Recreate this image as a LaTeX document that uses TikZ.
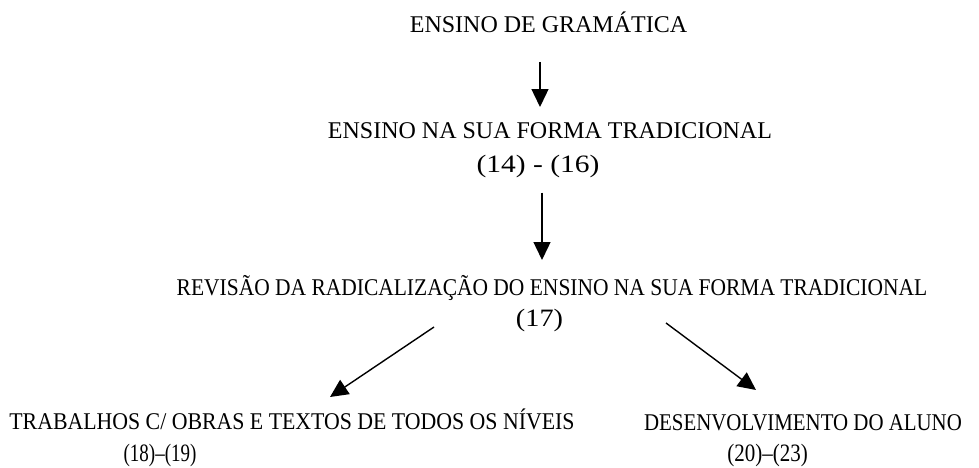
\documentclass[tikz,border=0pt]{standalone}
\usepackage{fontspec}
\setmainfont{Liberation Serif}
\usepackage{graphicx}
\usetikzlibrary{arrows.meta}

% horizontal squeeze / stretch of a text
\newcommand{\hscale}[2]{\scalebox{#1}[1]{#2}}

\begin{document}
\begin{tikzpicture}[
  x=1pt, y=1pt,
  heading/.style={
    inner sep=0pt,
    anchor=base,
    font=\fontsize{24}{28}\selectfont,
  },
  reference/.style={
    inner sep=0pt,
    anchor=base,
    font=\fontsize{25}{29}\selectfont,
  },
  flow/.style={draw, line width=1.4pt, -{Triangle[length=18pt, width=17pt]}},
]
\useasboundingbox (0,0) rectangle (979,467);

\node[heading] (gram) at (548.5,434) {ENSINO DE GRAMÁTICA};
\node[heading] (trad) at (550,329) {ENSINO NA SUA FORMA TRADICIONAL};
\node[reference] (ref1416) at (538,294.5) {\hscale{1.18}{(14) - (16)}};
\node[heading] (rev) at (552,172) {\hscale{0.895}{REVISÃO DA RADICALIZAÇÃO DO ENSINO NA SUA FORMA TRADICIONAL}};
\node[reference] (ref17) at (539.5,141) {\hscale{1.13}{(17)}};
\node[heading] (obras) at (292,38) {\hscale{0.909}{TRABALHOS C/ OBRAS E TEXTOS DE TODOS OS NÍVEIS}};
\node[reference] (ref1819) at (160,6) {\hscale{0.76}{(18)--(19)}};
\node[heading] (aluno) at (803,37) {\hscale{0.87}{DESENVOLVIMENTO DO ALUNO}};
\node[reference] (ref2023) at (767.5,6) {\hscale{0.84}{(20)--(23)}};

% connectors
\draw[flow] ([shift={(-8.5,-29)}]gram.base) -- ([shift={(-10,31)}]trad.base);
\draw[flow] ([shift={(4,-20)}]ref1416.base) -- ([shift={(-10,35)}]rev.base);
\draw[flow] ([shift={(-105.5,-1)}]ref17.base) -- ([shift={(38,32)}]obras.base);
\draw[flow] ([shift={(126.5,3)}]ref17.base) -- ([shift={(-47,40)}]aluno.base);
\end{tikzpicture}
\end{document}
